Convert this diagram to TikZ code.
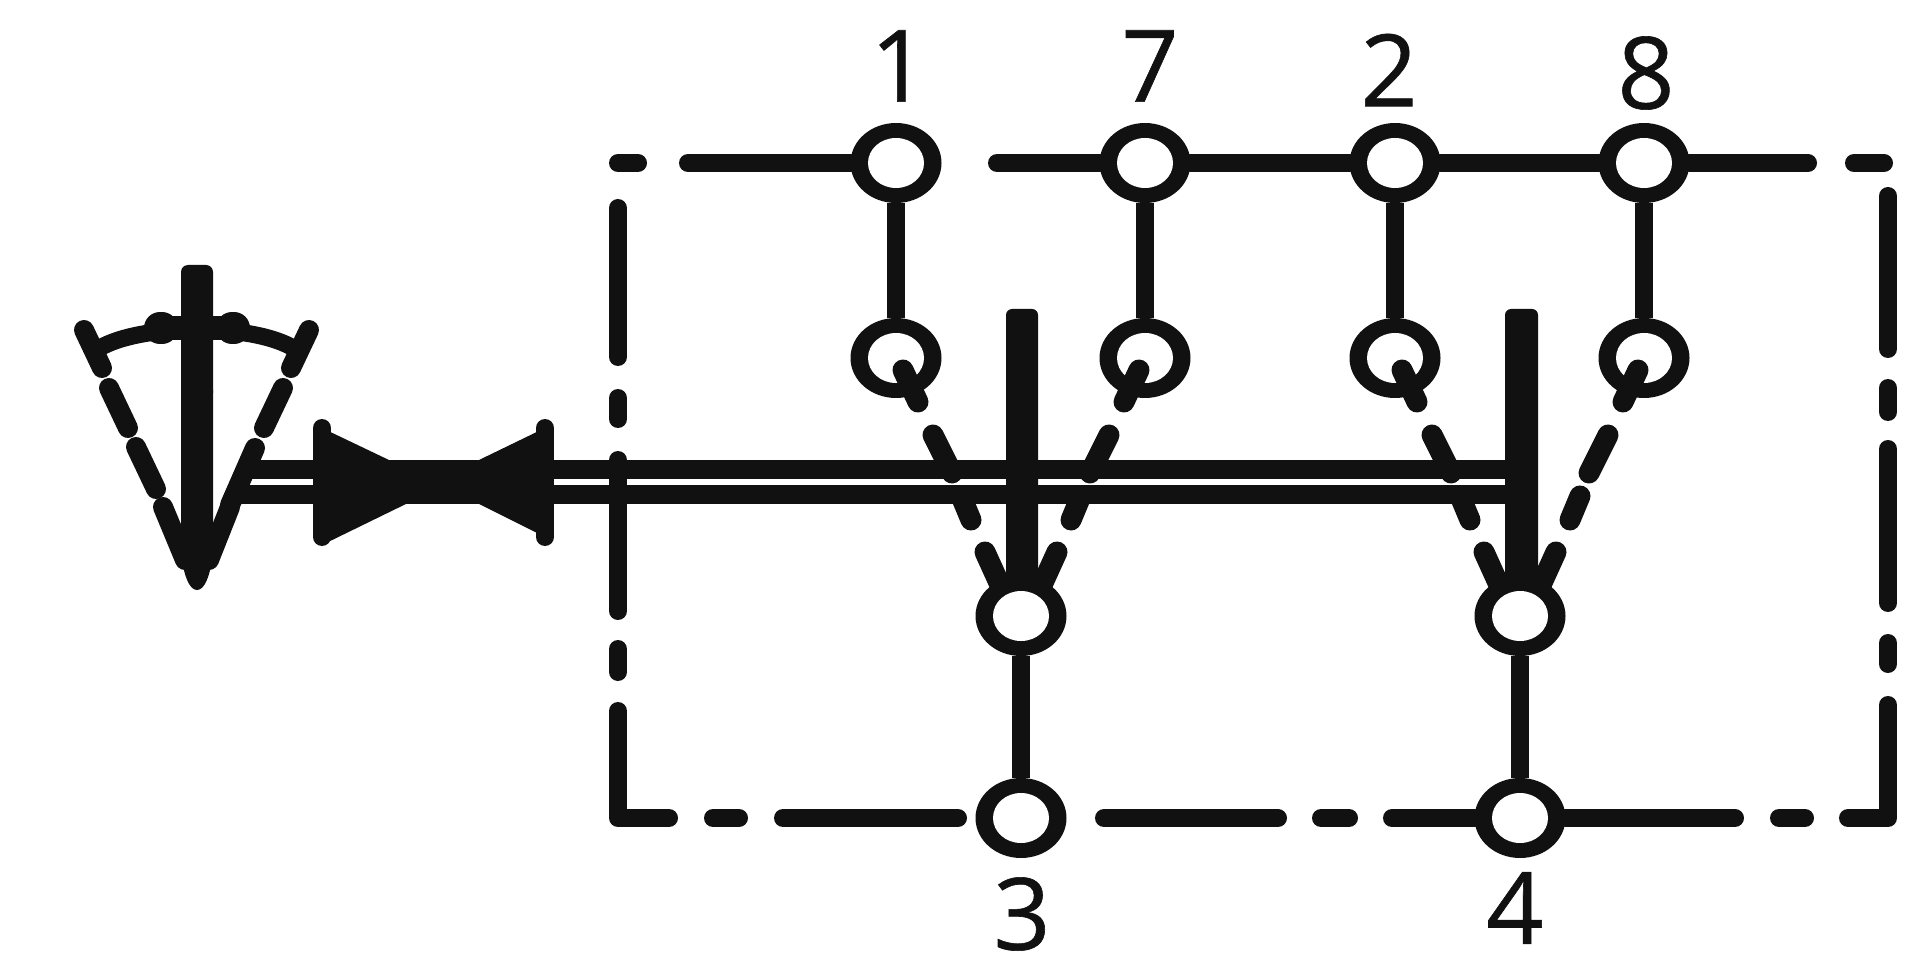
\documentclass[tikz,border=0pt]{standalone}
\usepackage{fontspec}
\setmainfont{Open Sans}
\setsansfont{Open Sans}
\newfontfamily\labfont[FakeBold=0.6]{Open Sans}
\usetikzlibrary{shapes.geometric}
\definecolor{ink}{HTML}{111111}
\tikzset{
  ln/.style={draw=ink,line width=18pt,line cap=round,line join=round},
  bord/.style={draw=ink,line width=18pt,line cap=round,line join=round},
  cdash/.style={draw=ink,line width=21pt,line cap=round},
  pdash/.style={draw=ink,line width=20pt,line cap=round},
  vert/.style={draw=ink,line width=18pt,line cap=butt},
  shaft/.style={draw=ink,line width=19pt,line cap=butt},
  term/.style={ellipse,fill=ink,draw=none,inner sep=0pt,minimum width=91pt,minimum height=80pt,
    path picture={\fill[white] (path picture bounding box.center) ellipse (28pt and 25pt);}},
  lab/.style={text=ink,inner sep=0pt}
}
\newcommand{\digit}[1]{{\labfont\fontsize{100pt}{100pt}\selectfont #1}}
\begin{document}
\begin{tikzpicture}[x=1pt,y=-1pt]
\useasboundingbox (0,0) rectangle (1920,973);
\fill[white] (0,0) rectangle (1920,973);

% shaft
\coordinate (sL1) at (245,469); \coordinate (sR1) at (1510,469);
\coordinate (sL2) at (237,494); \coordinate (sR2) at (1510,494);
\draw[shaft] (sL1) -- (sR1);
\draw[shaft] (sL2) -- (sR2);

% bowtie
\fill[ink] (322,428) -- (389,460) -- (479,460) -- (545,428) -- (545,537) -- (477,503) -- (408,503) -- (322,545) -- cycle;
\draw[ln] (322,428) -- (322,537);
\draw[ln] (545,428) -- (545,537);

% pointer
\fill[ink,rounded corners=7pt] (181,400) -- (181,265) -- (213,265) -- (213,400) -- cycle;
\fill[ink] (181,390) -- (213,390) -- (213,555) .. controls (210,575) and (205,590) .. (197,590) .. controls (189,590) and (184,575) .. (181,555) -- cycle;
\draw[draw=ink,line width=17pt] (98,349) .. controls (140,323) and (254,323) .. (295,349);
\draw[draw=ink,line width=32pt,line cap=round] (160,328) -- (162,328);
\draw[draw=ink,line width=32pt,line cap=round] (232,328) -- (234,328);
\draw[draw=ink,line width=24pt] (165,328) -- (230,328);
\foreach \a/\b/\c/\d in {84/330/102/368, 109/388/128/428, 136/447/156/489, 163/507/185/560,
                         309/330/291/368, 283/388/264/428, 255/448/230/505, 230/507/209/560}
  \draw[pdash] (\a,\b) -- (\c,\d);

% border dash pieces
\foreach \a/\b/\c/\d in {618/208/618/357, 618/398/618/419, 618/460/618/611, 618/649/618/672,
                         713/818/739/818, 1321/818/1349/818, 1779/818/1805/818,
                         1888/643/1888/664, 1888/449/1888/603, 1888/388/1888/412, 1888/196/1888/349,
                         1854/163/1884/163}
  \draw[bord] (\a,\b) -- (\c,\d);
\draw[bord] (618,163) -- (638,163);
\draw[bord] (618,711) -- (618,818) -- (669,818);
\draw[bord] (1848,818) -- (1888,818) -- (1888,705);
\draw[bord] (783,818) -- (958,818);
\draw[bord] (1104,818) -- (1278,818);

% top row terminals
\node[term] (t1) at (896,163) {};
\node[term] (t7) at (1145,163) {};
\node[term] (t2) at (1395,163) {};
\node[term] (t8) at (1644,163) {};
% lower row terminals
\node[term] (c1) at (896,358) {};
\node[term] (c7) at (1145,358) {};
\node[term] (c2) at (1395,358) {};
\node[term] (c8) at (1644,358) {};

\coordinate (a1) at (688,163); \draw[ln] (a1) -- (t1);
\coordinate (a2) at (997,163); \draw[ln] (a2) -- (t7);
\draw[ln] (t7) -- (t2);
\draw[ln] (t2) -- (t8);
\coordinate (a3) at (1808,163); \draw[ln] (t8) -- (a3);
\draw[ln,line cap=butt] (t1) -- (c1);
\draw[ln,line cap=butt] (t7) -- (c7);
\draw[ln,line cap=butt] (t2) -- (c2);
\draw[ln,line cap=butt] (t8) -- (c8);

% contact bars
\fill[ink,rounded corners=6pt] (1006,309) rectangle (1038,600);
\fill[ink,rounded corners=6pt] (1505,309) rectangle (1538,600);

% dashed contacts
\foreach \cx in {1021,1520}{
  \foreach \s in {-1,1}{
    \begin{scope}[shift={(\cx,0)},xscale=\s]
      \draw[cdash] (-118,370) -- (-103,402);
      \draw[cdash] (-88,435) -- (-69,473);
      \draw[cdash] (-60,496) -- (-50,520);
      \draw[cdash] (-36,552) -- (-16,596);
    \end{scope}
  }
}

% middle and bottom terminals
\node[term] (m3) at (1021,616) {};
\node[term] (m4) at (1520,616) {};
\node[term] (b3) at (1021,818) {};
\node[term] (b4) at (1520,818) {};
\draw[vert] (m3) -- (b3);
\draw[vert] (m4) -- (b4);
\coordinate (a4) at (1392,818); \draw[bord] (a4) -- (b4);
\coordinate (a5) at (1735,818); \draw[bord] (b4) -- (a5);

% labels
\node[lab] (l1) at (899,66) {\digit{1}};
\node[lab] (l7) at (1150,66) {\digit{7}};
\node[lab] (l2) at (1389,70) {\digit{2}};
\node[lab] (l8) at (1646,73) {\digit{8}};
\node[lab] (l3) at (1022,914) {\digit{3}};
\node[lab] (l4) at (1515,908) {\digit{4}};
\end{tikzpicture}
\end{document}
